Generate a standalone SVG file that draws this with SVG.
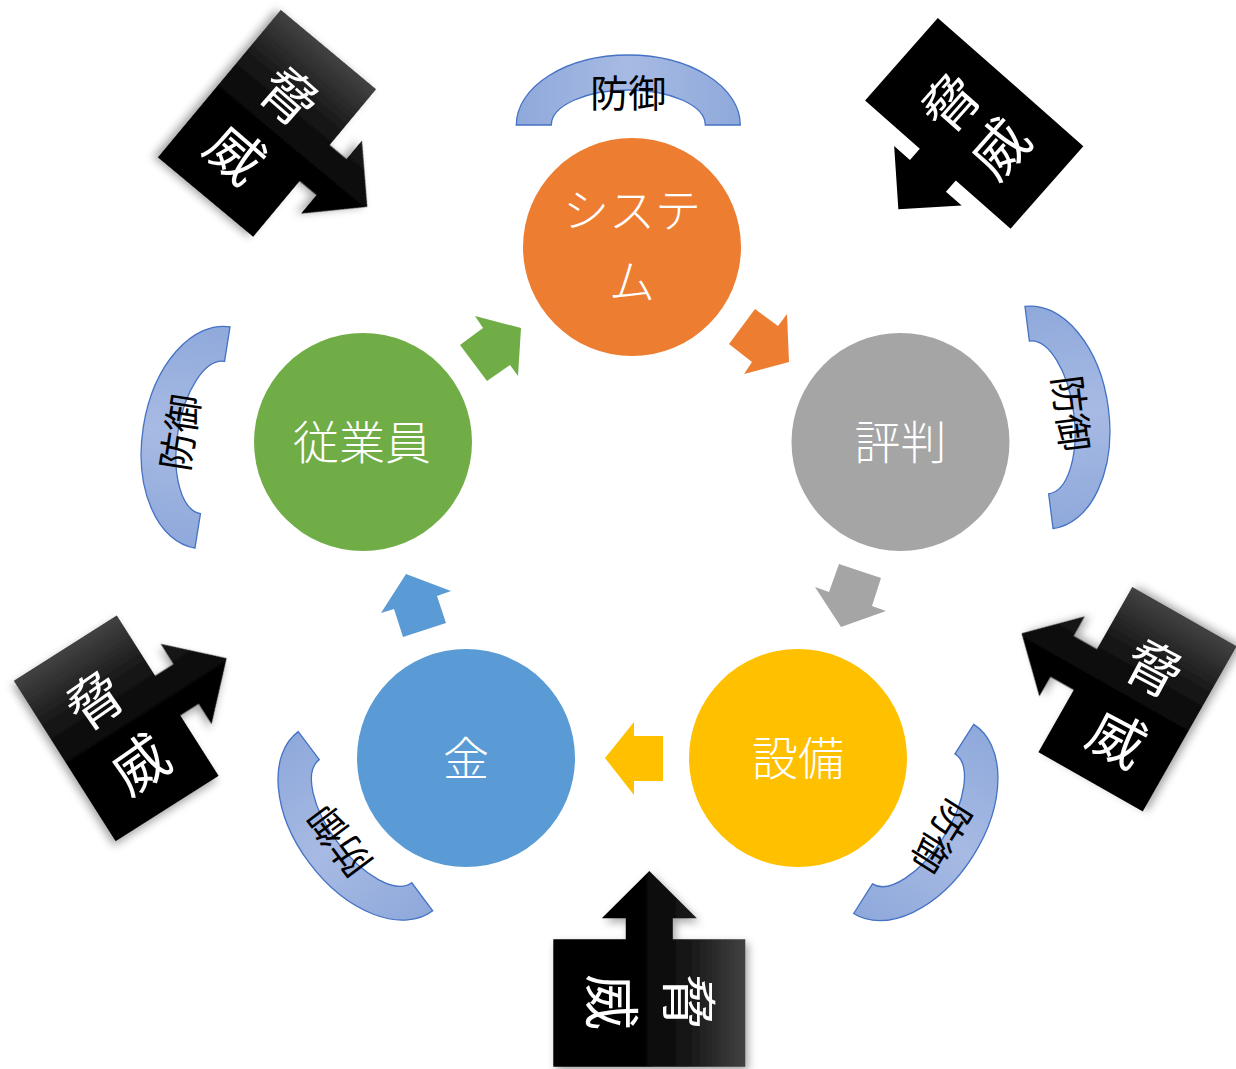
<svg xmlns="http://www.w3.org/2000/svg" width="1236" height="1069" viewBox="0 0 1236 1069">
<defs>
  <style>
    .ntext{font-family:"Noto Sans CJK JP","Noto Sans",sans-serif;font-size:46px;font-weight:300;fill:#fff;text-anchor:middle;dominant-baseline:central}
    .dtext{font-family:"Noto Sans CJK JP","Noto Sans",sans-serif;font-size:38px;fill:#000;text-anchor:middle;dominant-baseline:central}
    .ttext{font-family:"Noto Sans CJK JP","Noto Sans",sans-serif;font-size:56px;fill:#fff;text-anchor:middle;dominant-baseline:central}
    .arc{fill:url(#arcGrad);stroke:#4472C4;stroke-width:1.3}
  </style>
  <linearGradient id="arcGrad" x1="0" y1="0" x2="1" y2="0">
    <stop offset="0" stop-color="#8FA9DB"/>
    <stop offset="0.5" stop-color="#A7BAE3"/>
    <stop offset="1" stop-color="#8FA9DB"/>
  </linearGradient>
  <linearGradient id="gR" x1="0" y1="0" x2="1" y2="0">
    <stop offset="0" stop-color="#000"/>
    <stop offset="0.4" stop-color="#000"/>
    <stop offset="0.7" stop-color="#161616"/>
    <stop offset="1" stop-color="#424242"/>
  </linearGradient>
  <linearGradient id="gL" x1="1" y1="0" x2="0" y2="0">
    <stop offset="0" stop-color="#000"/>
    <stop offset="0.4" stop-color="#000"/>
    <stop offset="0.7" stop-color="#161616"/>
    <stop offset="1" stop-color="#424242"/>
  </linearGradient>
  <filter id="sh" x="-30%" y="-30%" width="160%" height="160%">
    <feDropShadow dx="3" dy="4" stdDeviation="4" flood-color="#000" flood-opacity="0.35"/>
  </filter>
  <path id="blockArc" d="M -112 0 A 112 70 0 0 1 112 0 L 77 0 A 77 35 0 0 0 -77 0 Z"/>
</defs>
<rect width="1236" height="1069" fill="#fff"/>

<!-- defense arcs -->
<g id="defense-top" transform="translate(628.3,125)">
  <use href="#blockArc" class="arc"/>
  <text class="dtext" x="0" y="-35">防御</text>
</g>
<g id="defense-left" transform="translate(212.5,437.5) rotate(-81)">
  <use href="#blockArc" class="arc"/>
  <text class="dtext" x="0" y="-35">防御</text>
</g>
<g id="defense-right" transform="translate(1039,417.5) rotate(82.8)">
  <use href="#blockArc" class="arc"/>
  <text class="dtext" x="0" y="-35">防御</text>
</g>
<g id="defense-bottom-left" transform="translate(365.5,821.2) rotate(-126.9)">
  <use href="#blockArc" class="arc"/>
  <text class="dtext" x="0" y="-35">防御</text>
</g>
<g id="defense-bottom-right" transform="translate(913.7,818.9) rotate(122.4)">
  <use href="#blockArc" class="arc"/>
  <text class="dtext" x="0" y="-35">防御</text>
</g>

<!-- threats -->
<g id="threat-upper-left">
  <path filter="url(#sh)" fill="url(#gL)" transform="translate(267,123.3) rotate(129.8)" d="M -96 -62 L -23.5 -62 L -23.5 -84 L -47.5 -84 L 0 -130.4 L 47.5 -84 L 23.5 -84 L 23.5 -62 L 96 -62 L 96 62 L -96 62 Z"/>
  <text class="ttext" transform="translate(292,93.5) rotate(41)">脅</text>
  <text class="ttext" transform="translate(238,151) rotate(41)">威</text>
</g>
<g id="threat-upper-right">
  <path fill="#000" transform="translate(974.2,123.3) rotate(221.4)" d="M -97 -55 L -24 -55 L -24 -70 L -45 -70 L 0 -114.7 L 45 -70 L 24 -70 L 24 -55 L 97 -55 L 97 55 L -97 55 Z"/>
  <text class="ttext" transform="translate(948,100) rotate(-48.5)">脅</text>
  <text class="ttext" transform="translate(997,146) rotate(-48.5)">威</text>
</g>
<g id="threat-lower-left">
  <path filter="url(#sh)" fill="url(#gL)" transform="translate(116.2,728.3) rotate(57.6)" d="M -95 -61 L -23.5 -61 L -23.5 -82.7 L -47.5 -82.7 L 0 -130.8 L 47.5 -82.7 L 23.5 -82.7 L 23.5 -61 L 95 -61 L 95 61 L -95 61 Z"/>
  <text class="ttext" transform="translate(93,697) rotate(-35)">脅</text>
  <text class="ttext" transform="translate(138,761) rotate(-35)">威</text>
</g>
<g id="threat-lower-right">
  <path filter="url(#sh)" fill="url(#gR)" transform="translate(1137.5,699.2) rotate(-60.4)" d="M -95 -60 L -23.5 -60 L -23.5 -86.7 L -46 -86.7 L 0 -133.2 L 46 -86.7 L 23.5 -86.7 L 23.5 -60 L 95 -60 L 95 60 L -95 60 Z"/>
  <text class="ttext" transform="translate(1156,665) rotate(28)">脅</text>
  <text class="ttext" transform="translate(1119,735) rotate(28)">威</text>
</g>
<g id="threat-bottom">
  <path filter="url(#sh)" fill="url(#gR)" transform="translate(649.3,1003)" d="M -96 -63.7 L -23.5 -63.7 L -23.5 -84.7 L -47.5 -84.7 L 0 -132 L 47.5 -84.7 L 23.5 -84.7 L 23.5 -63.7 L 96 -63.7 L 96 63.7 L -96 63.7 Z"/>
  <text class="ttext" transform="translate(692,1002) rotate(90)">脅</text>
  <text class="ttext" transform="translate(615,1002) rotate(90)">威</text>
</g>

<!-- connectors -->
<g id="connectors">
  <polygon fill="#70AD47" points="460,345 483,328 475,316 521,328 518,376 510,365 487,381"/>
  <polygon fill="#ED7D31" points="729,344 755,309 778,326 787,314 789,362 744,374 752,362"/>
  <polygon fill="#A5A5A5" points="839,564 881,578 872,606 886,611 841,627 815,587 829,592"/>
  <polygon fill="#FFC000" points="605,758 634,722 634,736 663,736 663,781 634,781 634,795"/>
  <polygon fill="#5B9BD5" points="406,574 451,591 437,596 446,623 403,637 394,609 381,613"/>
</g>

<!-- nodes -->
<g id="node-system">
  <circle cx="632" cy="247" r="109" fill="#ED7D31"/>
  <text class="ntext" x="632" y="207">システ</text>
  <text class="ntext" x="632" y="278">ム</text>
</g>
<g id="node-reputation">
  <circle cx="900.5" cy="442" r="109" fill="#A5A5A5"/>
  <text class="ntext" x="900.5" y="439">評判</text>
</g>
<g id="node-facility">
  <circle cx="798" cy="758" r="109" fill="#FFC000"/>
  <text class="ntext" x="798" y="755">設備</text>
</g>
<g id="node-money">
  <circle cx="466" cy="758" r="109" fill="#5B9BD5"/>
  <text class="ntext" x="466" y="755">金</text>
</g>
<g id="node-employee">
  <circle cx="363" cy="442" r="109" fill="#70AD47"/>
  <text class="ntext" x="362" y="439">従業員</text>
</g>
</svg>
